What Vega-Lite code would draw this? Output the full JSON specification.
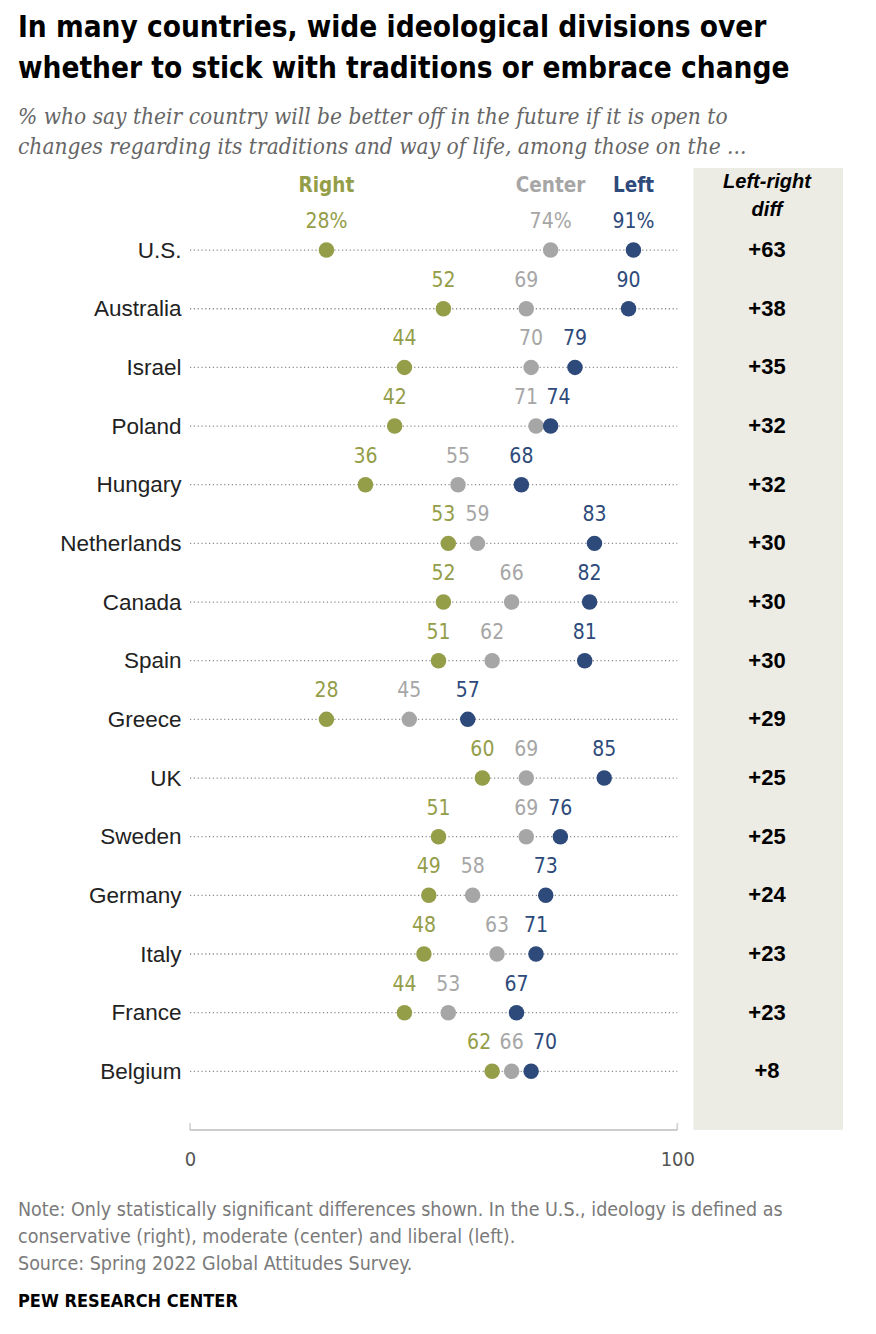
{
  "$schema": "https://vega.github.io/schema/vega-lite/v6.json",
  "width": 653,
  "height": 962,
  "autosize": {"type": "none"},
  "padding": {"left": 190, "top": 168, "right": 33, "bottom": 204},
  "background": "white",
  "config": {"view": {"stroke": null}, "text": {"font": "Liberation Sans Narrow, DejaVu Sans Condensed, sans-serif"}},
  "title": {
    "text": ["In many countries, wide ideological divisions over", "whether to stick with traditions or embrace change"],
    "subtitle": ["% who say their country will be better off in the future if it is open to", "changes regarding its traditions and way of life, among those on the ..."],
    "anchor": "start",
    "frame": "group",
    "dx": -172,
    "offset": 9,
    "font": "Liberation Sans Narrow, DejaVu Sans Condensed, sans-serif",
    "fontSize": 29.5,
    "fontWeight": "bold",
    "color": "#000000",
    "lineHeight": 41,
    "subtitleFont": "DejaVu Serif Condensed, DejaVu Serif, serif",
    "subtitleFontStyle": "italic",
    "subtitleFontSize": 22.5,
    "subtitleColor": "#666666",
    "subtitleLineHeight": 30,
    "subtitlePadding": 21
  },
  "datasets": {
    "points": [
      {"country": "U.S.", "group": "Right", "value": 28, "label": "28%"},
      {"country": "U.S.", "group": "Center", "value": 74, "label": "74%"},
      {"country": "U.S.", "group": "Left", "value": 91, "label": "91%"},
      {"country": "Australia", "group": "Right", "value": 52, "label": "52"},
      {"country": "Australia", "group": "Center", "value": 69, "label": "69"},
      {"country": "Australia", "group": "Left", "value": 90, "label": "90"},
      {"country": "Israel", "group": "Right", "value": 44, "label": "44"},
      {"country": "Israel", "group": "Center", "value": 70, "label": "70"},
      {"country": "Israel", "group": "Left", "value": 79, "label": "79"},
      {"country": "Poland", "group": "Right", "value": 42, "label": "42"},
      {"country": "Poland", "group": "Center", "value": 71, "label": "71"},
      {"country": "Poland", "group": "Left", "value": 74, "label": "74"},
      {"country": "Hungary", "group": "Right", "value": 36, "label": "36"},
      {"country": "Hungary", "group": "Center", "value": 55, "label": "55"},
      {"country": "Hungary", "group": "Left", "value": 68, "label": "68"},
      {"country": "Netherlands", "group": "Right", "value": 53, "label": "53"},
      {"country": "Netherlands", "group": "Center", "value": 59, "label": "59"},
      {"country": "Netherlands", "group": "Left", "value": 83, "label": "83"},
      {"country": "Canada", "group": "Right", "value": 52, "label": "52"},
      {"country": "Canada", "group": "Center", "value": 66, "label": "66"},
      {"country": "Canada", "group": "Left", "value": 82, "label": "82"},
      {"country": "Spain", "group": "Right", "value": 51, "label": "51"},
      {"country": "Spain", "group": "Center", "value": 62, "label": "62"},
      {"country": "Spain", "group": "Left", "value": 81, "label": "81"},
      {"country": "Greece", "group": "Right", "value": 28, "label": "28"},
      {"country": "Greece", "group": "Center", "value": 45, "label": "45"},
      {"country": "Greece", "group": "Left", "value": 57, "label": "57"},
      {"country": "UK", "group": "Right", "value": 60, "label": "60"},
      {"country": "UK", "group": "Center", "value": 69, "label": "69"},
      {"country": "UK", "group": "Left", "value": 85, "label": "85"},
      {"country": "Sweden", "group": "Right", "value": 51, "label": "51"},
      {"country": "Sweden", "group": "Center", "value": 69, "label": "69"},
      {"country": "Sweden", "group": "Left", "value": 76, "label": "76"},
      {"country": "Germany", "group": "Right", "value": 49, "label": "49"},
      {"country": "Germany", "group": "Center", "value": 58, "label": "58"},
      {"country": "Germany", "group": "Left", "value": 73, "label": "73"},
      {"country": "Italy", "group": "Right", "value": 48, "label": "48"},
      {"country": "Italy", "group": "Center", "value": 63, "label": "63"},
      {"country": "Italy", "group": "Left", "value": 71, "label": "71"},
      {"country": "France", "group": "Right", "value": 44, "label": "44"},
      {"country": "France", "group": "Center", "value": 53, "label": "53"},
      {"country": "France", "group": "Left", "value": 67, "label": "67"},
      {"country": "Belgium", "group": "Right", "value": 62, "label": "62"},
      {"country": "Belgium", "group": "Center", "value": 66, "label": "66"},
      {"country": "Belgium", "group": "Left", "value": 70, "label": "70"}
    ],
    "diffs": [
      {"country": "U.S.", "diff": "+63"},
      {"country": "Australia", "diff": "+38"},
      {"country": "Israel", "diff": "+35"},
      {"country": "Poland", "diff": "+32"},
      {"country": "Hungary", "diff": "+32"},
      {"country": "Netherlands", "diff": "+30"},
      {"country": "Canada", "diff": "+30"},
      {"country": "Spain", "diff": "+30"},
      {"country": "Greece", "diff": "+29"},
      {"country": "UK", "diff": "+25"},
      {"country": "Sweden", "diff": "+25"},
      {"country": "Germany", "diff": "+24"},
      {"country": "Italy", "diff": "+23"},
      {"country": "France", "diff": "+23"},
      {"country": "Belgium", "diff": "+8"}
    ],
    "ends": [{"v": 0}, {"v": 100}],
    "one": [{"k": 1}]
  },
  "layer": [
    {
      "data": {"name": "one"},
      "mark": {"type": "rect", "color": "#ecebe4"},
      "encoding": {
        "x": {"datum": 103.3, "type": "quantitative", "scale": {"domain": [0, 134], "nice": false, "zero": false},
          "axis": {"values": [0, 100], "domain": false, "ticks": false, "grid": false, "title": null, "labelFlush": false, "labelPadding": 19, "labelFontSize": 20, "labelColor": "#555555", "labelFont": "Liberation Sans Narrow, DejaVu Sans Condensed, sans-serif"}},
        "x2": {"datum": 134}
      }
    },
    {
      "data": {"name": "diffs"},
      "mark": {"type": "rule", "color": "#8c8c8c", "strokeDash": [1.2, 2.6], "strokeWidth": 1.3},
      "encoding": {
        "x": {"datum": 0, "type": "quantitative"},
        "x2": {"datum": 100},
        "y": {"field": "country", "type": "nominal",
          "scale": {"type": "point", "domain": ["hdr", "U.S.", "Australia", "Israel", "Poland", "Hungary", "Netherlands", "Canada", "Spain", "Greece", "UK", "Sweden", "Germany", "Italy", "France", "Belgium", "axis"], "padding": 0.1995, "align": 1},
          "axis": {"labelExpr": "datum.value == 'hdr' || datum.value == 'axis' ? '' : datum.value", "domain": false, "ticks": false, "grid": false, "title": null, "labelPadding": 9, "labelFontSize": 22.5, "labelColor": "#222222", "labelFont": "Liberation Sans, Arial, sans-serif"}}
      }
    },
    {
      "data": {"name": "one"},
      "mark": {"type": "rule", "color": "#bdbdbd", "strokeWidth": 1.6},
      "encoding": {
        "x": {"datum": 0, "type": "quantitative"},
        "x2": {"datum": 100},
        "y": {"datum": "axis", "type": "nominal"}
      }
    },
    {
      "data": {"name": "ends"},
      "mark": {"type": "tick", "orient": "vertical", "color": "#bdbdbd", "thickness": 1.6, "size": 7, "yOffset": -3.5},
      "encoding": {
        "x": {"field": "v", "type": "quantitative"},
        "y": {"datum": "axis", "type": "nominal"}
      }
    },
    {
      "data": {"name": "points"},
      "mark": {"type": "circle", "size": 240, "opacity": 1},
      "encoding": {
        "x": {"field": "value", "type": "quantitative"},
        "y": {"field": "country", "type": "nominal"},
        "color": {"field": "group", "type": "nominal", "scale": {"domain": ["Right", "Center", "Left"], "range": ["#949d48", "#a6a6a6", "#2d4a7a"]}, "legend": null}
      }
    },
    {
      "data": {"name": "points"},
      "mark": {"type": "text", "dy": -28, "fontSize": 21, "baseline": "middle",
        "dx": {"expr": "datum.country == 'Poland' && datum.group == 'Center' ? -10 : datum.country == 'Poland' && datum.group == 'Left' ? 8 : datum.country == 'Belgium' && datum.group == 'Right' ? -13 : datum.country == 'Belgium' && datum.group == 'Left' ? 14 : datum.country == 'Netherlands' && datum.group == 'Right' ? -5 : 0"}},
      "encoding": {
        "x": {"field": "value", "type": "quantitative"},
        "y": {"field": "country", "type": "nominal"},
        "text": {"field": "label"},
        "color": {"field": "group", "type": "nominal"}
      }
    },
    {
      "data": {"name": "points"},
      "transform": [{"filter": "datum.country == 'U.S.'"}],
      "mark": {"type": "text", "dy": -5, "fontSize": 20.5, "fontWeight": "bold", "baseline": "middle"},
      "encoding": {
        "x": {"field": "value", "type": "quantitative"},
        "y": {"datum": "hdr", "type": "nominal"},
        "text": {"field": "group"},
        "color": {"field": "group", "type": "nominal"}
      }
    },
    {
      "data": {"name": "diffs"},
      "mark": {"type": "text", "fontSize": 22, "fontWeight": "bold", "color": "#000000", "baseline": "middle", "font": "Liberation Sans, Arial, sans-serif"},
      "encoding": {
        "x": {"datum": 118.4, "type": "quantitative"},
        "y": {"field": "country", "type": "nominal"},
        "text": {"field": "diff"}
      }
    },
    {
      "data": {"name": "one"},
      "mark": {"type": "text", "fontSize": 20, "fontWeight": "bold", "fontStyle": "italic", "color": "#000000", "baseline": "middle", "lineHeight": 28, "dy": -9, "font": "Liberation Sans, Arial, sans-serif"},
      "encoding": {
        "x": {"datum": 118.4, "type": "quantitative"},
        "y": {"datum": "hdr", "type": "nominal"},
        "text": {"value": ["Left-right", "diff"]}
      }
    },
    {
      "data": {"name": "one"},
      "mark": {"type": "text", "fontSize": 19.5, "color": "#7a7a7a", "align": "left", "baseline": "middle", "lineHeight": 27, "dx": -172, "dy": 80},
      "encoding": {
        "x": {"datum": 0, "type": "quantitative"},
        "y": {"datum": "axis", "type": "nominal"},
        "text": {"value": ["Note: Only statistically significant differences shown. In the U.S., ideology is defined as", "conservative (right), moderate (center) and liberal (left).", "Source: Spring 2022 Global Attitudes Survey."]}
      }
    },
    {
      "data": {"name": "one"},
      "mark": {"type": "text", "fontSize": 18, "fontWeight": "bold", "color": "#000000", "align": "left", "baseline": "middle", "dx": -172, "dy": 172},
      "encoding": {
        "x": {"datum": 0, "type": "quantitative"},
        "y": {"datum": "axis", "type": "nominal"},
        "text": {"value": "PEW RESEARCH CENTER"}
      }
    }
  ]
}
